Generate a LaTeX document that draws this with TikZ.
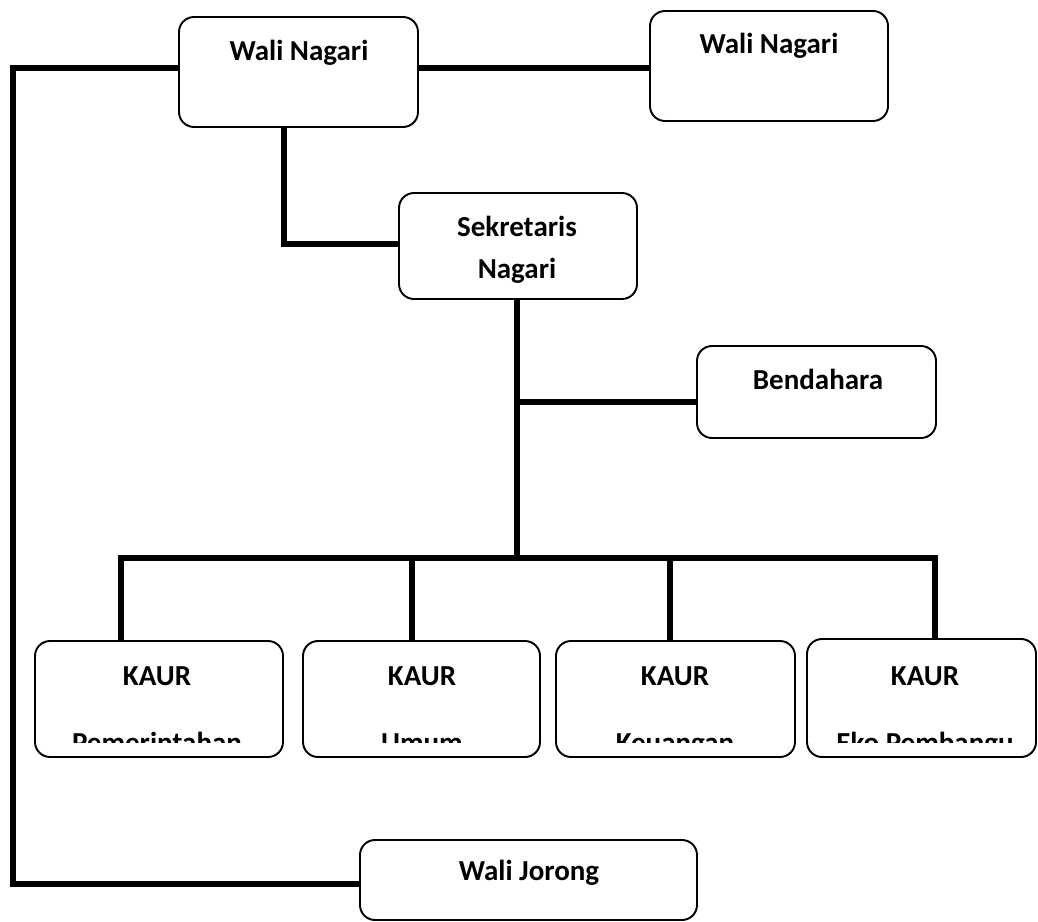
\documentclass[tikz,border=0pt]{standalone}
\usepackage{fontspec}
\setmainfont{Carlito}
\usetikzlibrary{fit,positioning}

\tikzset{
    box/.style={draw, line width=1.1pt, rounded corners=0.3cm, inner sep=0pt},
    conn/.style={line width=3.4pt, line join=miter},
    lbl/.style={anchor=base, inner sep=0pt, font=\bfseries\fontsize{16.5}{20}\selectfont}
}

\begin{document}
\begin{tikzpicture}[x=0.02cm, y=-0.02cm]
    \useasboundingbox (0,0) rectangle (1038,922);
    % boxes
    \node[box, fit={(179,17) (418,127)}] (wn1) {};
    \node[box, fit={(650,11) (888,121)}] (wn2) {};
    \node[box, fit={(399,193) (637,299)}] (sek) {};
    \node[box, fit={(697,346) (936,438)}] (bend) {};
    \node[box, fit={(35,641) (283,757)}] (k1) {};
    \node[box, fit={(303,641) (540,757)}] (k2) {};
    \node[box, fit={(556,641) (795,757)}] (k3) {};
    \node[box, fit={(807,639) (1036,757)}] (k4) {};
    \node[box, fit={(360,840) (697,920)}] (wj) {};
    % texts
    \node[lbl] (wn1-t) at (299,61) {Wali Nagari};
    \node[lbl] (wn2-t) at (769,54) {Wali Nagari};
    \node[lbl] (sek-t) at (517,237) {Sekretaris};
    \node[lbl] (sek-t2) at (517,278) {Nagari};
    \node[lbl] (bend-t) at (818,389) {Bendahara};
    \foreach \k/\x in {k1/157,k2/422,k3/675,k4/925}
        \node[lbl] (\k-t) at (\x,685) {KAUR};
    \begin{scope}
        \clip (0,700) rectangle (1038,742);
        \node[lbl] (k1-t2) at (157,752) {Pemerintahan};
        \node[lbl] (k2-t2) at (422,752) {Umum};
        \node[lbl] (k3-t2) at (675,752) {Keuangan};
        \node[lbl] (k4-t2) at (925,752) {Eko Pembangu};
    \end{scope}
    \node[lbl] (wj-t) at (529,880) {Wali Jorong};
    % connectors
    \coordinate (top) at (13,68);
    \coordinate (bot) at (13,884);
    \draw[conn] (wn1.west |- top) -- (top) -- (bot) -- (wj.west |- bot);
    \draw[conn] (wn1.east |- top) -- (wn2.west |- top);
    \coordinate (wk) at (284,244);
    \draw[conn] (wk |- wn1.south) -- (wk) -- (sek.west |- wk);
    \coordinate (bus) at (517,558);
    \coordinate (bb) at (517,402);
    \draw[conn] (sek.south -| bus) -- (bus);
    \draw[conn] (bb) -- (bend.west |- bb);
    \foreach \k/\x in {k1/121,k2/412,k3/670,k4/935}{
        \coordinate (d\k) at (\x,558);
        \draw[conn] (d\k) -- (d\k |- \k.north);
    }
    \draw[conn, line cap=rect] (dk1) -- (dk4);
\end{tikzpicture}
\end{document}
